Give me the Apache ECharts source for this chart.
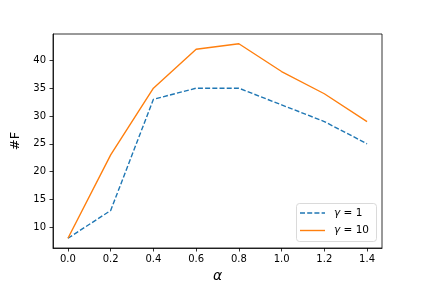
<!DOCTYPE html>
<html><head><meta charset="utf-8">
<script src="https://cdn.jsdelivr.net/npm/echarts@6/dist/echarts.min.js"></script>
<style>html,body{margin:0;padding:0;background:#fff}#c{width:425px;height:284px}</style>
</head><body><div id="c"></div>
<script>
const alphas = [0.0, 0.2, 0.4, 0.6, 0.8, 1.0, 1.2, 1.4];
const gamma1 = [8, 13, 33, 35, 35, 32, 29, 25];
const gamma10 = [8, 23, 35, 42, 43, 38, 34, 29];
const xTicks = [0.0, 0.2, 0.4, 0.6, 0.8, 1.0, 1.2, 1.4];
const yTicks = [10, 15, 20, 25, 30, 35, 40];
const legendNames = ['1', '10'];

const C1 = '#1f77b4', C2 = '#ff7f0e';
const chart = echarts.init(document.getElementById('c'), null, {renderer: 'canvas'});
const font = 'DejaVu Sans';
const richText = n => '{i|γ}{n| = ' + n + '}';
const rich = {i: {fontFamily: font, fontSize: 10.5, fontStyle: 'italic', fill: '#000'}, n: {fontFamily: font, fontSize: 10.5, fill: '#000'}};
chart.setOption({
  animation: false,
  grid: {left: 53, right: 43, top: 34, bottom: 36, containLabel: false, outerBoundsMode: 'none', show: true, borderColor: '#000', borderWidth: 0.8, backgroundColor: 'transparent'},
  xAxis: {
    type: 'value', min: -0.07, max: 1.47,
    name: 'α', nameLocation: 'middle', nameGap: 21,
    nameTextStyle: {fontFamily: font, fontSize: 14, fontStyle: 'italic', color: '#000'},
    axisLine: {show: true, onZero: false, lineStyle: {color: '#000', width: 0.8}},
    axisTick: {show: true, customValues: xTicks, length: 3.5, lineStyle: {color: '#000', width: 0.8}},
    axisLabel: {customValues: xTicks, margin: 6, fontFamily: font, fontSize: 10, color: '#000', formatter: v => v.toFixed(1)},
    splitLine: {show: false}
  },
  yAxis: {
    type: 'value', min: 6.25, max: 44.75,
    name: '#F', nameLocation: 'middle', nameGap: 29,
    nameTextStyle: {fontFamily: font, fontSize: 13, color: '#000'},
    axisLine: {show: true, onZero: false, lineStyle: {color: '#000', width: 0.8}},
    axisTick: {show: true, customValues: yTicks, length: 3.5, lineStyle: {color: '#000', width: 0.8}},
    axisLabel: {customValues: yTicks, margin: 7, fontFamily: font, fontSize: 10, color: '#000'},
    splitLine: {show: false}
  },
  graphic: [
    {type: 'rect', shape: {x: 296.5, y: 203.5, width: 80, height: 38, r: 3}, style: {fill: 'rgba(255,255,255,0.8)', stroke: '#d0d0d0', lineWidth: 0.8}, z: 100},
    {type: 'line', shape: {x1: 300, y1: 213, x2: 325, y2: 213}, style: {stroke: C1, lineWidth: 1.4, lineDash: [5, 2.2]}, z: 101},
    {type: 'line', shape: {x1: 300, y1: 230.5, x2: 325, y2: 230.5}, style: {stroke: C2, lineWidth: 1.4}, z: 101},
    {type: 'text', x: 334, y: 213, style: {text: richText(legendNames[0]), rich: rich, verticalAlign: 'middle'}, z: 101},
    {type: 'text', x: 334, y: 230.5, style: {text: richText(legendNames[1]), rich: rich, verticalAlign: 'middle'}, z: 101}
  ],
  series: [
    {name: 'g1', type: 'line', data: alphas.map((a, i) => [a, gamma1[i]]), symbol: 'none',
     lineStyle: {color: C1, width: 1.4, type: [5, 2.2]}, itemStyle: {color: C1}},
    {name: 'g10', type: 'line', data: alphas.map((a, i) => [a, gamma10[i]]), symbol: 'none',
     lineStyle: {color: C2, width: 1.4}, itemStyle: {color: C2}}
  ]
});
</script></body></html>
